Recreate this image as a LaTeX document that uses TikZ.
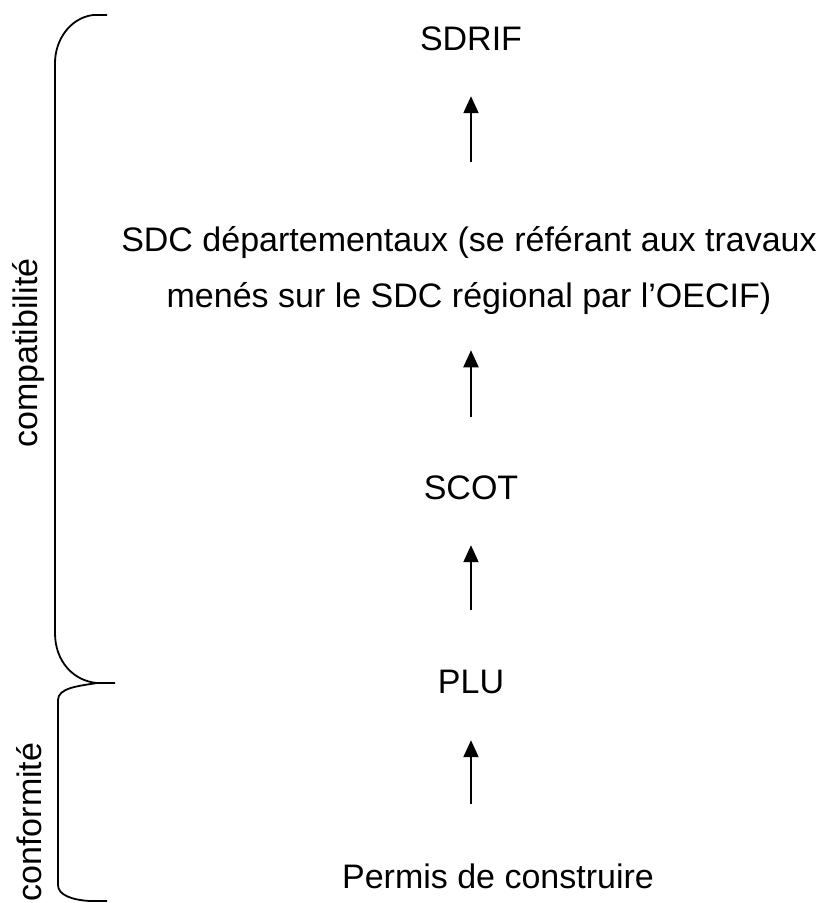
\documentclass[tikz,border=0pt]{standalone}
\usepackage{fontspec}
\setmainfont{Liberation Sans}
\usetikzlibrary{arrows.meta}
\begin{document}
\begin{tikzpicture}[x=1pt,y=-1pt,
  lbl/.style={inner sep=0pt, font=\fontsize{34}{56}\selectfont, text height=25pt, text depth=8pt},
  multi/.style={inner sep=0pt, font=\fontsize{34}{56}\selectfont, align=center},
  side/.style={inner sep=0pt, font=\fontsize{34}{40}\selectfont, rotate=90, anchor=base},
  arr/.style={line width=2pt, -{Triangle[width=15pt,length=17pt]}},
  brace/.style={line width=1.8pt, line join=round}]
\useasboundingbox (0,0) rectangle (822,903);
\node[lbl, anchor=base] (sdrif) at (471,50) {SDRIF};
\node[multi] (sdc) at (469,271) {SDC départementaux (se référant aux travaux\\menés sur le SDC régional par l’OECIF)};
\node[lbl, anchor=base] (scot) at (471,499) {SCOT};
\node[lbl, anchor=base] (plu) at (471,693) {PLU};
\node[lbl, anchor=base] (permis) at (498,888) {Permis de construire};
\node[side] (compat) at (37,353) {compatibilité};
\node[side] (conf) at (41,822) {conformité};
\draw[arr, shorten <=65pt, shorten >=38pt] (sdrif.south |- sdc.north) -- (sdrif.south);
\draw[arr, shorten <=57pt, shorten >=35pt] (scot.north) -- (scot.north |- sdc.south);
\draw[arr, shorten <=58pt, shorten >=38pt] (plu.north) -- (scot.south);
\draw[arr, shorten <=59pt, shorten >=39pt] (plu.south |- permis.north) -- (plu.south);
\draw[brace] (107,15) -- (93,15) .. controls (70,18) and (55,40) .. (55,63) -- (55,633)
  .. controls (55,662) and (74,681) .. (97,683) -- (115,683);
\draw[brace] (97,683) .. controls (78,686) and (58,688) .. (58,700) -- (58,885)
  .. controls (58,895) and (72,900) .. (90,901) -- (107,901);
\end{tikzpicture}
\end{document}
